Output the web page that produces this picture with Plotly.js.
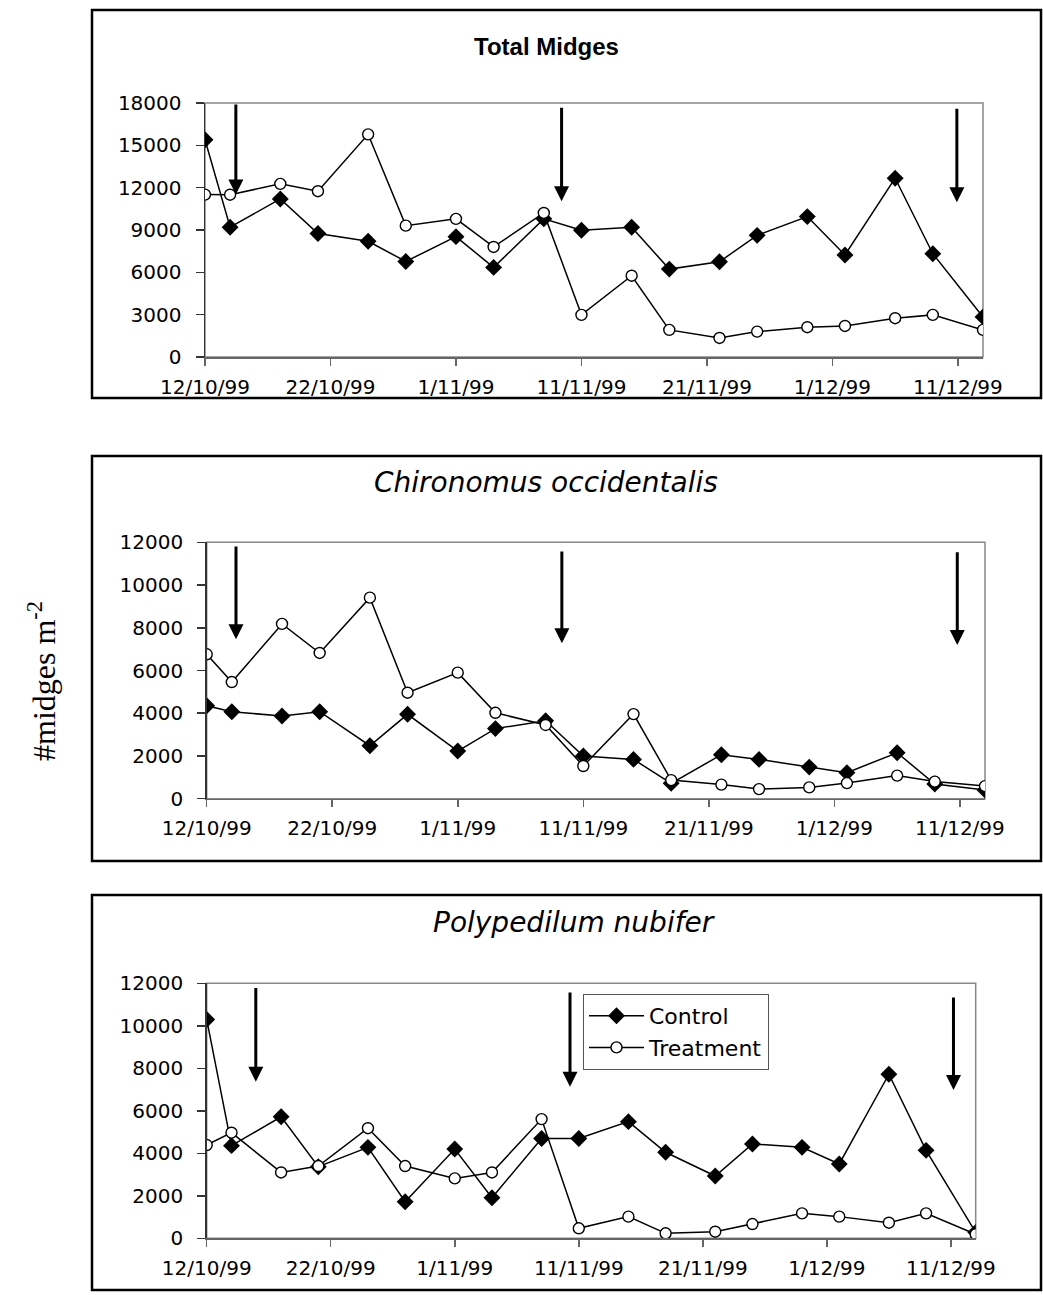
<!DOCTYPE html>
<html>
<head>
<meta charset="utf-8">
<script src="https://cdn.plot.ly/plotly-3.0.1.min.js"></script>
<style>html,body{margin:0;padding:0;background:#fff;}</style>
</head>
<body>
<div id="chart" style="width:1043px;height:1295px"></div>
<script>
// ---- data ----
const dates = ['1999-10-12','1999-10-14','1999-10-18','1999-10-21','1999-10-25','1999-10-28','1999-11-01','1999-11-04','1999-11-08','1999-11-11','1999-11-15','1999-11-18','1999-11-22','1999-11-25','1999-11-29','1999-12-02','1999-12-06','1999-12-09','1999-12-13'];
const totalControl   = [15400, 9200, 11200, 8750, 8200, 6770, 8530, 6350, 9790, 8980, 9190, 6230, 6750, 8620, 9950, 7230, 12670, 7320, 2840];
const totalTreatment = [11510, 11500, 12270, 11750, 15780, 9310, 9790, 7800, 10210, 2985, 5760, 1920, 1350, 1800, 2110, 2200, 2750, 2985, 1920];
const chirControl    = [4350, 4070, 3870, 4070, 2480, 3950, 2230, 3280, 3650, 2000, 1840, 720, 2060, 1840, 1480, 1220, 2150, 690, 410];
const chirTreatment  = [6760, 5460, 8180, 6820, 9410, 4960, 5900, 4020, 3450, 1530, 3960, 870, 660, 450, 530, 730, 1080, 800, 590];
const polyControl    = [10300, 4360, 5720, 3370, 4280, 1720, 4200, 1910, 4700, 4700, 5490, 4050, 2930, 4440, 4280, 3500, 7720, 4140, 280];
const polyTreatment  = [4390, 4970, 3100, 3400, 5180, 3400, 2820, 3100, 5610, 470, 1020, 235, 310, 670, 1175, 1020, 735, 1175, 190];

const panelTitles = ['Total Midges', 'Chironomus occidentalis', 'Polypedilum nubifer'];
const seriesNames = ['Control', 'Treatment'];
const yAxisLabel = '#midges m<sup>-2</sup>';

// arrows (application dates), tail and tip values
const arrowDates1 = ['1999-10-14 11:00', '1999-11-09 10:00', '1999-12-10 22:00'];
const arrowTail1  = [18000, 17770, 17700];
const arrowTip1   = [11510, 11040, 10970];
const arrowDates2 = ['1999-10-14 08:00', '1999-11-09 07:00', '1999-12-10 19:00'];
const arrowTail2  = [11870, 11640, 11600];
const arrowTip2   = [7460, 7270, 7190];
const arrowDates3 = ['1999-10-15 23:00', '1999-11-10 07:00', '1999-12-11 05:00'];
const arrowTail3  = [11850, 11640, 11400];
const arrowTip3   = [7370, 7130, 6980];

// ---- layout helpers ----
const W = 1043, H = 1295;
const fx = p => p / W;
const fy = p => 1 - p / H;

function ctrl(x, y, xa, ya, show) {
  return {x: x, y: y, xaxis: xa, yaxis: ya, type: 'scatter', mode: 'lines+markers', name: seriesNames[0],
    showlegend: show, legendgroup: 'c',
    line: {color: '#000', width: 1.5},
    marker: {symbol: 'diamond', size: 13, color: '#000', line: {width: 0}}};
}
function trt(x, y, xa, ya, show) {
  return {x: x, y: y, xaxis: xa, yaxis: ya, type: 'scatter', mode: 'lines+markers', name: seriesNames[1],
    showlegend: show, legendgroup: 't',
    line: {color: '#000', width: 1.5},
    marker: {symbol: 'circle', size: 11, color: '#fff', line: {color: '#000', width: 1.4}}};
}

const traces = [
  ctrl(dates, totalControl, 'x', 'y', false),
  trt(dates, totalTreatment, 'x', 'y', false),
  ctrl(dates, chirControl, 'x2', 'y2', false),
  trt(dates, chirTreatment, 'x2', 'y2', false),
  ctrl(dates, polyControl, 'x3', 'y3', true),
  trt(dates, polyTreatment, 'x3', 'y3', true)
];

function xax(d0, d1, ya) {
  return {type: 'date', domain: [d0, d1], anchor: ya,
    range: [dates[0], dates[dates.length - 1]],
    tick0: dates[0], dtick: 864000000, tickformat: '%-d/%-m/%y',
    ticks: 'outside', ticklen: 7, tickwidth: 1.5, tickcolor: '#666',
    showline: true, linecolor: '#666', linewidth: 1.5,
    showgrid: false, zeroline: false, ticklabelstandoff: 4,
    tickfont: {family: 'DejaVu Sans', size: 20, color: '#000'}};
}
function yax(d0, d1, xa, max, step) {
  return {domain: [d0, d1], anchor: xa, range: [0, max], dtick: step, tick0: 0, tickformat: 'd',
    ticks: 'outside', ticklen: 8, tickwidth: 1.5, tickcolor: '#333',
    showline: true, linecolor: '#333', linewidth: 1.5,
    showgrid: false, zeroline: false, ticklabelstandoff: 10,
    tickfont: {family: 'DejaVu Sans', size: 20, color: '#000'}};
}

const shapes = [];
// outer panel boxes
[[10, 398], [456, 861], [895, 1290]].forEach(b => {
  shapes.push({type: 'rect', xref: 'paper', yref: 'paper', x0: fx(92), x1: fx(1041), y0: fy(b[1]), y1: fy(b[0]),
    line: {color: '#000', width: 2.5}, fillcolor: 'rgba(0,0,0,0)', layer: 'below'});
});
// plot-area frames
['', '2', '3'].forEach(s => {
  shapes.push({type: 'rect', xref: 'x' + s + ' domain', yref: 'y' + s + ' domain', x0: 0, x1: 1, y0: 0, y1: 1,
    line: {color: '#888', width: 1.5}, fillcolor: 'rgba(0,0,0,0)', layer: 'below'});
});

const annotations = [];
function addArrows(ds, tails, tips, xa, ya) {
  ds.forEach((d, i) => {
    annotations.push({xref: xa, yref: ya, axref: xa, ayref: ya, x: d, y: tips[i], ax: d, ay: tails[i],
      text: '', showarrow: true, arrowhead: 2, arrowsize: 1, arrowwidth: 3, arrowcolor: '#000'});
  });
}
addArrows(arrowDates1, arrowTail1, arrowTip1, 'x', 'y');
addArrows(arrowDates2, arrowTail2, arrowTip2, 'x2', 'y2');
addArrows(arrowDates3, arrowTail3, arrowTip3, 'x3', 'y3');

annotations.push({xref: 'paper', yref: 'paper', x: fx(546), y: fy(46), xanchor: 'center', yanchor: 'middle', showarrow: false,
  text: '<b>' + panelTitles[0] + '</b>', font: {family: 'Liberation Sans', size: 24, color: '#000'}});
annotations.push({xref: 'paper', yref: 'paper', x: fx(546), y: fy(483), xanchor: 'center', yanchor: 'middle', showarrow: false,
  text: '<i>' + panelTitles[1] + '</i>', font: {family: 'DejaVu Sans', size: 28, color: '#000'}});
annotations.push({xref: 'paper', yref: 'paper', x: fx(574), y: fy(923), xanchor: 'center', yanchor: 'middle', showarrow: false,
  text: '<i>' + panelTitles[2] + '</i>', font: {family: 'DejaVu Sans', size: 28, color: '#000'}});
annotations.push({xref: 'paper', yref: 'paper', x: fx(42), y: fy(681), xanchor: 'center', yanchor: 'middle', showarrow: false,
  textangle: -90, text: yAxisLabel, font: {family: 'Liberation Serif', size: 32, color: '#000'}});

const layout = {
  width: W, height: H, margin: {l: 0, r: 0, t: 0, b: 0},
  paper_bgcolor: '#fff', plot_bgcolor: '#fff',
  font: {family: 'DejaVu Sans', size: 20, color: '#000'},
  showlegend: true,
  legend: {x: fx(583), y: fy(994), xanchor: 'left', yanchor: 'top',
    bgcolor: '#fff', bordercolor: '#555', borderwidth: 1,
    font: {family: 'DejaVu Sans', size: 22, color: '#000'}, tracegroupgap: 0, itemwidth: 55},
  xaxis:  xax(fx(205), fx(983), 'y'),
  yaxis:  yax(fy(357), fy(103), 'x', 18000, 3000),
  xaxis2: xax(fx(206.7), fx(985), 'y2'),
  yaxis2: yax(fy(798.7), fy(542.3), 'x2', 12000, 2000),
  xaxis3: xax(fx(206.7), fx(975.7), 'y3'),
  yaxis3: yax(fy(1238.3), fy(983.3), 'x3', 12000, 2000),
  shapes: shapes,
  annotations: annotations
};

Plotly.newPlot('chart', traces, layout, {staticPlot: true});
</script>
</body>
</html>
